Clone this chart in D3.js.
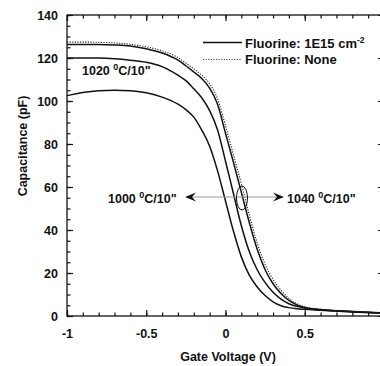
<!DOCTYPE html>
<html>
<head>
<meta charset="utf-8">
<script src="https://cdn.jsdelivr.net/npm/d3@7"></script>
<style>
  body { margin: 0; background: #fff; }
  svg { display: block; }
  text { font-family: "Liberation Sans", Arial, sans-serif; font-weight: bold; fill: #111; }
</style>
</head>
<body>
<svg width="380" height="366"></svg>
<script>
var voltage = [-1, -0.9, -0.8, -0.7, -0.6, -0.5, -0.4, -0.3, -0.25, -0.2, -0.15, -0.1, -0.05,
               0, 0.05, 0.1, 0.15, 0.2, 0.25, 0.3, 0.35, 0.4, 0.45, 0.5, 0.6, 0.7, 0.8, 0.9, 1.0];

// Fluorine 1E15 cm-2 (solid)
var cap1000 = [102.5, 104, 104.8, 105, 104.8, 103.8, 101.8, 98.5, 96, 92.5, 86.5, 79, 67.5,
               53.5, 39.5, 27.5, 19, 13.5, 9.5, 6.6, 4.8, 3.9, 3.4, 3.1, 2.7, 2.3, 1.9, 1.6, 1.3];
var cap1020 = [120, 120, 120, 119.7, 119, 118, 116, 112, 109.5, 105.7, 101.5, 95.5, 86.5,
               72, 57, 42, 30, 21.5, 15.5, 11, 7.8, 5.7, 4.5, 3.7, 2.9, 2.4, 2, 1.6, 1.3];
var cap1040 = [126.3, 126.3, 126.3, 126.1, 125.6, 124.3, 122.3, 119, 116.4, 113.5, 110.5, 106, 98.5,
               85, 71.5, 57.5, 43.5, 31, 21.5, 15, 10.5, 7.3, 5.2, 4, 3, 2.5, 2.1, 1.7, 1.4];
// Fluorine: None (dotted)
var cap1040None = [127.4, 127.4, 127.3, 127, 126.4, 125.2, 123.3, 120.2, 117.6, 115, 112, 108, 101,
                   88.5, 75, 61.5, 47, 34, 24, 17, 12, 8.2, 5.7, 4.3, 3.1, 2.6, 2.2, 1.8, 1.5];

var xTickLabels = [-1, -0.5, 0, 0.5];
var yTickLabels = [0, 20, 40, 60, 80, 100, 120, 140];
var legendLabels = ["Fluorine: 1E15 cm", "Fluorine: None"];

var svg = d3.select("svg");
var x = d3.scaleLinear().domain([-1, 1]).range([67, 384]);
var y = d3.scaleLinear().domain([0, 140]).range([316, 15]);

// frame
svg.append("rect")
    .attr("x", x(-1)).attr("y", y(140))
    .attr("width", x(1) - x(-1)).attr("height", y(0) - y(140))
    .attr("fill", "none").attr("stroke", "#111").attr("stroke-width", 1.3);

function styleAxis(g) {
    g.select(".domain").remove();
    g.selectAll(".tick line").attr("stroke", "#111").attr("stroke-width", 1.2);
    g.selectAll("text").style("font-size", "12.5px").attr("fill", "#111");
}

var xMinor = d3.range(-1, 1.001, 0.1).map(function(d) { return Math.round(d * 10) / 10; });
var yMinor = d3.range(0, 141, 5);

// minor ticks, all four sides
svg.append("g").attr("transform", "translate(0," + y(0) + ")")
    .call(d3.axisBottom(x).tickValues(xMinor).tickSize(-3.5).tickFormat("")).call(styleAxis);
svg.append("g").attr("transform", "translate(0," + y(140) + ")")
    .call(d3.axisTop(x).tickValues(xMinor).tickSize(-3.5).tickFormat("")).call(styleAxis);
svg.append("g").attr("transform", "translate(" + x(-1) + ",0)")
    .call(d3.axisLeft(y).tickValues(yMinor).tickSize(-3.5).tickFormat("")).call(styleAxis);
svg.append("g").attr("transform", "translate(" + x(1) + ",0)")
    .call(d3.axisRight(y).tickValues(yMinor).tickSize(-3.5).tickFormat("")).call(styleAxis);

// major ticks with labels
svg.append("g").attr("transform", "translate(0," + y(0) + ")")
    .call(d3.axisBottom(x).tickValues(xTickLabels).tickSize(-6).tickPadding(13)
        .tickFormat(function(d) { return String(d); })).call(styleAxis);
svg.append("g").attr("transform", "translate(0," + y(140) + ")")
    .call(d3.axisTop(x).tickValues([-1, -0.5, 0, 0.5, 1]).tickSize(-6).tickFormat("")).call(styleAxis);
svg.append("g").attr("transform", "translate(" + x(-1) + ",0)")
    .call(d3.axisLeft(y).tickValues(yTickLabels).tickSize(-6).tickPadding(9)
        .tickFormat(function(d) { return String(d); })).call(styleAxis);
svg.append("g").attr("transform", "translate(" + x(1) + ",0)")
    .call(d3.axisRight(y).tickValues(yTickLabels).tickSize(-6).tickFormat("")).call(styleAxis);

// axis titles
svg.append("text").attr("x", 228).attr("y", 361).attr("text-anchor", "middle")
    .style("font-size", "12.5px").text("Gate Voltage (V)");
svg.append("text").attr("transform", "translate(27,146) rotate(-90)").attr("text-anchor", "middle")
    .style("font-size", "12.5px").text("Capacitance (pF)");

// curves
var line = d3.line()
    .x(function(d) { return x(d[0]); })
    .y(function(d) { return y(d[1]); })
    .curve(d3.curveMonotoneX);

var solid = [cap1000, cap1020, cap1040];
solid.forEach(function(vals) {
    svg.append("path")
        .datum(voltage.map(function(v, i) { return [v, vals[i]]; }))
        .attr("d", line)
        .attr("fill", "none").attr("stroke", "#111").attr("stroke-width", 1.5);
});
svg.append("path")
    .datum(voltage.map(function(v, i) { return [v, cap1040None[i]]; }))
    .attr("d", line)
    .attr("fill", "none").attr("stroke", "#222").attr("stroke-width", 1.1)
    .attr("stroke-dasharray", "1.2,1.4");

// annotations
function tempLabel(tx, ty, temp) {
    var t = svg.append("text").attr("x", tx).attr("y", ty).style("font-size", "12.5px");
    t.append("tspan").text(temp + " ");
    t.append("tspan").attr("dy", -5).style("font-size", "9px").text("0");
    t.append("tspan").attr("dy", 5).text("C/10\"");
}
tempLabel(82, 75, "1020");
tempLabel(108, 203, "1000");
tempLabel(287, 203, "1040");

var arrowY = 197;
svg.append("line").attr("x1", 190).attr("x2", 280).attr("y1", arrowY).attr("y2", arrowY)
    .attr("stroke", "#999").attr("stroke-width", 1);
svg.append("path")
    .attr("d", "M185," + arrowY + " L196," + (arrowY - 4.5) + " L192," + arrowY + " L196," + (arrowY + 4.5) + "Z")
    .attr("fill", "#111");
svg.append("path")
    .attr("d", "M284," + arrowY + " L273," + (arrowY - 4.5) + " L277," + arrowY + " L273," + (arrowY + 4.5) + "Z")
    .attr("fill", "#111");
svg.append("ellipse").attr("cx", 242).attr("cy", 198).attr("rx", 5.5).attr("ry", 12)
    .attr("fill", "none").attr("stroke", "#111").attr("stroke-width", 1);

// legend
svg.append("line").attr("x1", 203).attr("x2", 242).attr("y1", 42.5).attr("y2", 42.5)
    .attr("stroke", "#111").attr("stroke-width", 1.5);
svg.append("line").attr("x1", 203).attr("x2", 242).attr("y1", 59.5).attr("y2", 59.5)
    .attr("stroke", "#444").attr("stroke-width", 1).attr("stroke-dasharray", "1.2,1.4");
var lg1 = svg.append("text").attr("x", 245).attr("y", 48).style("font-size", "13px");
lg1.append("tspan").text(legendLabels[0]);
lg1.append("tspan").attr("dy", -5).style("font-size", "8.5px").text("-2");
svg.append("text").attr("x", 245).attr("y", 64).style("font-size", "13px").text(legendLabels[1]);
</script>
</body>
</html>
